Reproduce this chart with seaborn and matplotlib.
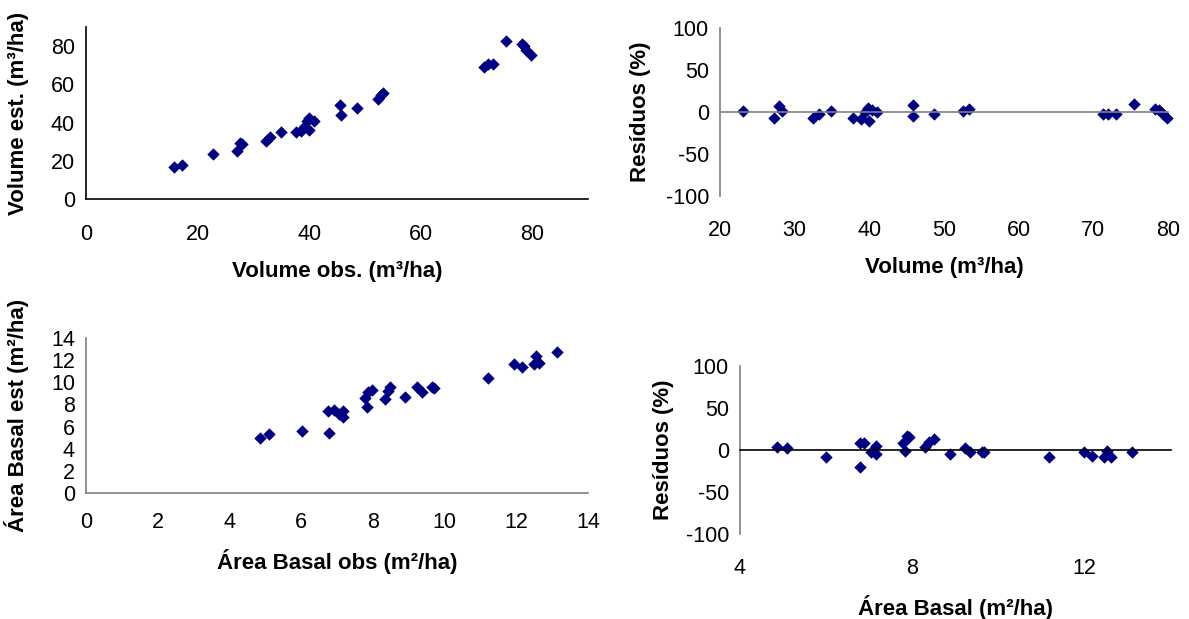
import pandas as pd
import seaborn as sns
from matplotlib import pyplot as plt

# volume: observado x estimado
vol_obs = [15.7, 17.3, 22.8, 27.1, 27.6, 28.0, 32.3, 33.0, 34.9, 37.6, 38.5, 39.1, 39.6, 39.9, 39.9,
           40.8, 45.5, 45.7, 48.6, 52.4, 52.8, 53.2, 71.3, 72.0, 72.9, 75.3, 78.1, 78.5, 78.9, 79.7]
vol_est = [17.0, 18.0, 23.5, 24.9, 29.2, 28.9, 30.3, 32.4, 35.0, 34.8, 35.7, 37.6, 40.6, 42.2, 35.9,
           40.6, 49.4, 43.8, 47.6, 52.5, 54.3, 55.7, 69.1, 70.9, 70.9, 82.6, 81.2, 80.0, 78.2, 75.3]

# residuos do volume (%)
res_vol_x = [23.1, 27.2, 27.9, 28.3, 32.4, 33.2, 34.8, 37.8, 38.9, 39.4, 39.8, 40.0, 40.4, 41.0,
             45.8, 45.8, 48.7, 52.6, 53.3, 71.3, 71.9, 73.0, 75.4, 78.3, 78.8, 79.3, 79.8]
res_vol = [1.2, -6.7, 6.7, 0.8, -7.1, -2.0, 1.2, -6.7, -7.9, 0.0, 4.8, -10.7, 2.0, 0.0,
           7.9, -4.8, -2.8, 1.2, 3.6, -2.8, -2.8, -2.8, 9.9, 4.0, 2.0, -2.0, -6.7]

# area basal: observado x estimado
ab_obs = [4.84, 5.11, 6.03, 6.78, 6.76, 6.92, 7.06, 7.17, 7.17, 7.79, 7.84, 7.86, 7.97, 8.33,
          8.42, 8.49, 8.90, 9.23, 9.38, 9.66, 9.71, 11.21, 11.95, 12.16, 12.49, 12.56, 12.62, 13.14]
ab_est = [5.0, 5.3, 5.58, 5.43, 7.43, 7.5, 7.12, 7.43, 6.82, 8.54, 7.78, 9.14, 9.29, 8.48,
          9.23, 9.6, 8.69, 9.54, 9.14, 9.54, 9.47, 10.35, 11.65, 11.35, 11.65, 12.37, 11.77, 12.76]

# residuos da area basal (%)
res_ab_x = [4.85, 5.1, 6.0, 6.78, 6.88, 6.78, 7.03, 7.15, 7.16, 7.78, 7.82, 7.87, 7.91, 8.30,
            8.38, 8.49, 8.87, 9.21, 9.34, 9.62, 9.66, 11.16, 11.97, 12.17, 12.45, 12.51, 12.6, 13.1]
res_ab = [4.0, 2.0, -7.9, 7.9, 7.9, -20.6, -2.8, 4.8, -4.8, 7.9, -0.8, 16.7, 15.9, 4.0,
          9.1, 12.7, -4.8, 2.8, -2.0, -2.0, -2.0, -7.9, -2.0, -6.7, -7.9, -0.8, -8.7, -2.0]

sns.set_style("white")
plt.rcParams['font.family'] = ['Liberation Sans', 'DejaVu Sans']
plt.rcParams['axes.unicode_minus'] = False
plt.rcParams['axes.labelcolor'] = 'black'

W, H = 1189, 619
fig = plt.figure(figsize=(W / 100, H / 100), dpi=100)

NAVY = '#000080'
GRAY = '#808080'
TFS = 15.5   # ticks
LFS = 16     # titulos dos eixos


def box(l, t, r, b):
    return [l / W, 1 - b / H, (r - l) / W, (b - t) / H]


def make_ax(rect, x, y, xlabel, ylabel, xlim, ylim, xticks, yticks, zero_axis=False,
            zero_color=GRAY, left_color=GRAY, xpad=6, ylab_px=20, xlab_py=270):
    ax = fig.add_axes(box(*rect))
    df = pd.DataFrame({'x': x, 'y': y})
    sns.scatterplot(data=df, x='x', y='y', ax=ax, marker='D', color=NAVY, s=40,
                    linewidth=0, clip_on=False)
    ax.set_xlim(xlim)
    ax.set_ylim(ylim)
    ax.set_xticks(xticks)
    ax.set_yticks(yticks)
    for s in ['top', 'right']:
        ax.spines[s].set_visible(False)
    if zero_axis:
        ax.spines['bottom'].set_position(('data', 0))
    ax.spines['bottom'].set_color(zero_color)
    ax.spines['left'].set_color(left_color)
    ax.spines['bottom'].set_linewidth(1.2)
    ax.spines['left'].set_linewidth(1.2)
    ax.tick_params(axis='both', direction='out', length=5, width=1.2, labelsize=TFS,
                   colors='black')
    ax.tick_params(axis='x', color=zero_color, pad=xpad)
    ax.tick_params(axis='y', color=left_color, pad=3)
    ax.set_xlabel(xlabel, fontsize=LFS, fontweight='bold', color='black')
    ax.set_ylabel(ylabel, fontsize=LFS, fontweight='bold', color='black')
    l, t, r, b = rect
    # ancoras: o texto do eixo y encosta pela direita, o do x pelo topo
    ax.yaxis.set_label_coords((ylab_px + 9 - l) / (r - l), 0.5)
    ax.xaxis.set_label_coords(0.5, (b - (xlab_py - 9)) / (b - t))
    ax.grid(False)
    return ax


make_ax((86, 27, 588, 199), vol_obs, vol_est, 'Volume obs. (m³/ha)', 'Volume est. (m³/ha)',
        (0, 90), (0, 90), range(0, 81, 20), range(0, 81, 20),
        zero_color='black', left_color='black', xpad=13, ylab_px=20, xlab_py=270)

make_ax((720, 28, 1168, 196), res_vol_x, res_vol, 'Volume (m³/ha)', 'Resíduos (%)',
        (20, 80), (-100, 100), range(20, 81, 10), range(-100, 101, 50), zero_axis=True,
        xpad=73, ylab_px=642, xlab_py=266)

make_ax((86, 338, 588, 493), ab_obs, ab_est, 'Área Basal obs (m²/ha)', 'Área Basal est (m²/ha)',
        (0, 14), (0, 14), range(0, 15, 2), range(0, 15, 2),
        xpad=9, ylab_px=20, xlab_py=558)

make_ax((740, 366, 1171, 534), res_ab_x, res_ab, 'Área Basal (m²/ha)', 'Resíduos (%)',
        (4, 14), (-100, 100), [4, 8, 12], range(-100, 101, 50), zero_axis=True,
        zero_color='black', xpad=73, ylab_px=665, xlab_py=604)

fig.savefig('out.png', dpi=100)
